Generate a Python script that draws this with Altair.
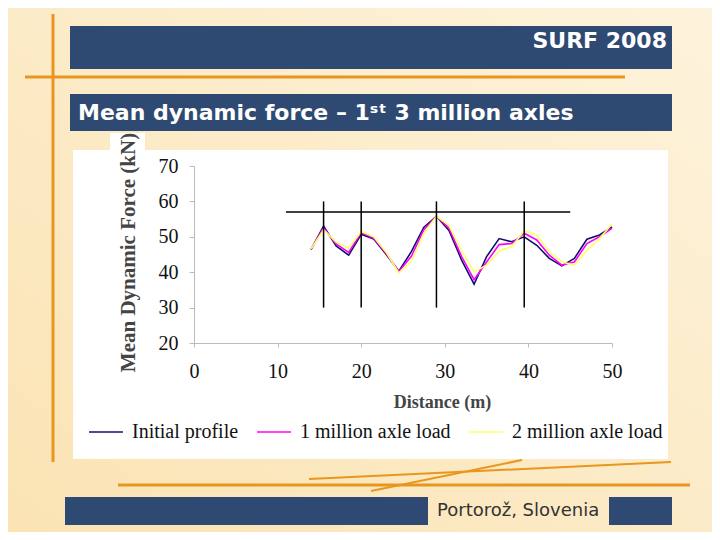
import altair as alt
import pandas as pd

# ---- chart values ----
distance = [14, 15.5, 17, 18.5, 20, 21.5, 23, 24.5, 26, 27.5, 29, 30.5, 32,
            33.5, 35, 36.5, 38, 39.5, 41, 42.5, 44, 45.5, 47, 48.5, 50]
initial = [46.4, 53.0, 47.4, 44.8, 50.7, 49.4, 45.0, 40.3, 45.8, 52.7, 55.8, 51.8, 43.5,
           36.6, 44.4, 49.5, 48.6, 50.0, 47.6, 43.9, 41.8, 43.9, 49.3, 50.5, 52.8]
one_million = [46.5, 52.5, 48.0, 45.6, 51.2, 49.6, 45.3, 40.2, 44.5, 52.0, 55.8, 52.5, 44.5,
               37.9, 42.9, 47.8, 48.1, 51.0, 49.1, 44.8, 42.0, 42.9, 48.1, 50.0, 52.4]
two_million = [46.6, 52.0, 48.5, 46.8, 51.5, 50.0, 45.6, 39.8, 43.0, 51.0, 55.8, 53.2, 46.0,
               40.1, 42.0, 46.0, 47.2, 51.7, 50.5, 45.7, 42.9, 42.0, 46.2, 49.5, 53.6]
series_names = ["Initial profile", "1 million axle load", "2 million axle load"]
series_colors = ["#10106a", "#ff00ff", "#ffff66"]

vline_x = [15.5, 20, 29, 39.5]
vline_y0, vline_y1 = 30, 60
hline_y = 57
hline_x0, hline_x1 = 11, 45

x_ticks = [0, 10, 20, 30, 40, 50]
y_ticks = [20, 30, 40, 50, 60, 70]

rows = []
for name, vals in zip(series_names, [initial, one_million, two_million]):
    for d, v in zip(distance, vals):
        rows.append({"Distance": d, "Force": v, "Series": name})
df = pd.DataFrame(rows)
vdf = pd.DataFrame({"x": vline_x, "y0": [vline_y0] * len(vline_x), "y1": [vline_y1] * len(vline_x)})
hdf = pd.DataFrame({"x0": [hline_x0], "x1": [hline_x1], "y": [hline_y]})

# ---- layout (page pixels) ----
OX, OY = 194, 166
W, H = 418, 177
one = alt.Data(values=[{}])

def px(x):
    return x - OX

def py(y):
    return y - OY

def rect(x0, y0, x1, y1, color):
    return alt.Chart(one).mark_rect(color=color).encode(
        x=alt.value(px(x0)), x2=alt.value(px(x1)),
        y=alt.value(py(y0)), y2=alt.value(py(y1)))

def line(x0, y0, x1, y1, color, w):
    return alt.Chart(one).mark_rule(color=color, strokeWidth=w).encode(
        x=alt.value(px(x0)), x2=alt.value(px(x1)),
        y=alt.value(py(y0)), y2=alt.value(py(y1)))

def text(x, y, s, size, color, weight="normal", align="left", font="DejaVu Sans"):
    return alt.Chart(one).mark_text(
        fontSize=size, color=color, fontWeight=weight, align=align,
        baseline="middle", font=font).encode(
        x=alt.value(px(x)), y=alt.value(py(y)), text=alt.value(s))

BLUE = "#2f4a72"
ORANGE = "#e8961e"

bg = alt.Chart(one).mark_rect(
    fill=alt.Gradient(gradient="linear", x1=1, y1=0, x2=0, y2=1,
                      stops=[alt.GradientStop(color="#fdf3dc", offset=0),
                             alt.GradientStop(color="#fbe3b3", offset=1)])
).encode(x=alt.value(px(0)), x2=alt.value(px(712)),
         y=alt.value(py(0)), y2=alt.value(py(532)))

decor = [
    bg,
    rect(70, 26, 672, 69, BLUE),
    rect(70, 94, 672, 131, BLUE),
    rect(73, 150, 668, 459, "white"),
    rect(110, 133, 145, 150, "white"),
    rect(65, 497, 428, 525, BLUE),
    rect(609, 497, 672, 525, BLUE),
    line(53, 14, 53, 462, ORANGE, 3),
    line(25, 77, 625, 77, ORANGE, 3),
    line(118, 485, 690, 485, ORANGE, 3),
    line(309, 479, 671, 462, ORANGE, 2),
    line(371, 491, 522, 460, ORANGE, 2),
    text(667, 41, "SURF 2008", 22, "white", "bold", "right"),
    text(78, 113, "Mean dynamic force \u2013 1\u02e2\u1d57 3 million axles", 22, "white", "bold"),
    text(437, 511, "Portoro\u017e, Slovenia", 18, "#333333"),
]

xscale = alt.Scale(domain=[0, 50], nice=False)
yscale = alt.Scale(domain=[20, 70], nice=False)

xaxis = alt.Axis(values=x_ticks, title="Distance (m)", grid=False,
                 titleX=248, titleY=59, titleBaseline="middle",
                 titleFont="Liberation Serif", titleFontSize=18,
                 titleFontWeight="bold", titleColor="#444444",
                 labelFont="Liberation Serif", labelFontSize=20,
                 labelColor="#111111", labelPadding=14, tickSize=4,
                 labelOverlap=False, labelFlush=False,
                 domainColor="#bbbbbb", tickColor="#bbbbbb", zindex=1)
yaxis = alt.Axis(values=y_ticks, title="Mean Dynamic Force (kN)", grid=False,
                 titleX=-66, titleY=86, titleAngle=-90, titleAlign="center",
                 titleBaseline="middle",
                 titleFont="Liberation Serif", titleFontSize=21,
                 titleFontWeight="bold", titleColor="#444444",
                 labelFont="Liberation Serif", labelFontSize=20,
                 labelColor="#111111", labelPadding=11, tickSize=5,
                 labelOverlap=False, labelFlush=False,
                 domainColor="#bbbbbb", tickColor="#bbbbbb", zindex=1)

lines = alt.Chart(df).mark_line(strokeWidth=1.6).encode(
    x=alt.X("Distance:Q", scale=xscale, axis=xaxis),
    y=alt.Y("Force:Q", scale=yscale, axis=yaxis),
    color=alt.Color("Series:N",
                    scale=alt.Scale(domain=series_names, range=series_colors),
                    legend=alt.Legend(title=None, orient="none", direction="horizontal",
                                      legendX=-106, legendY=248,
                                      symbolType="stroke", symbolSize=1150,
                                      symbolStrokeWidth=1.6,
                                      labelFont="Liberation Serif", labelFontSize=20,
                                      labelColor="#111111", labelOffset=8,
                                      columnPadding=14, labelLimit=300)),
    order=alt.Order("Distance:Q"),
)

vrules = alt.Chart(vdf).mark_rule(color="black", strokeWidth=1.5).encode(
    x=alt.X("x:Q", scale=xscale, axis=xaxis),
    y=alt.Y("y0:Q", scale=yscale, axis=yaxis), y2="y1:Q")
hrules = alt.Chart(hdf).mark_rule(color="black", strokeWidth=1.5).encode(
    x=alt.X("x0:Q", scale=xscale, axis=xaxis), x2="x1:Q",
    y=alt.Y("y:Q", scale=yscale, axis=yaxis))

chart = alt.layer(*decor, lines, vrules, hrules).properties(
    width=W, height=H, autosize="none",
    padding={"left": OX - 8, "top": OY - 8, "right": 704 - (OX - 8) - W,
             "bottom": 524 - (OY - 8) - H},
).configure_view(strokeWidth=0).configure(background="#fbe8c2")

chart.save("out.html", embed_options={"renderer": "svg", "actions": False})
